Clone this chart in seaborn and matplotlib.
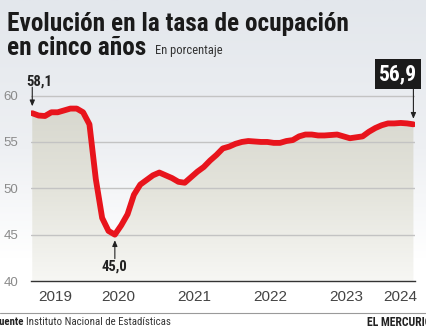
import numpy as np
import pandas as pd
import matplotlib
matplotlib.use("Agg")
import matplotlib.pyplot as plt
import seaborn as sns
from matplotlib.colors import LinearSegmentedColormap
from matplotlib.patches import Polygon

# ---------------- data ----------------
start_month = "2019-05-01"
end_month = "2024-05-01"
tasa = [58.1, 57.85, 57.8, 58.2, 58.2, 58.4, 58.6, 58.6, 58.2, 56.9,
        51.0, 46.8, 45.4, 45.0, 46.0, 47.2, 49.3, 50.4, 50.9, 51.4,
        51.7, 51.4, 51.1, 50.7, 50.6, 51.2, 51.8, 52.3, 53.0, 53.6,
        54.3, 54.5, 54.8, 55.0, 55.1, 55.05, 55.0, 55.0, 54.9, 54.9,
        55.1, 55.2, 55.6, 55.8, 55.8, 55.7, 55.7, 55.75, 55.8, 55.6,
        55.4, 55.5, 55.6, 56.1, 56.5, 56.8, 57.0, 57.0, 57.05, 57.0,
        56.9]
years = [2019, 2020, 2021, 2022, 2023, 2024]
year_labels = ["2019", "2020", "2021", "2022", "2023", "2024"]
y_ticks = [40, 45, 50, 55, 60]
label_first = "58,1"
label_min = "45,0"
label_last = "56,9"

months = pd.date_range(start_month, end_month, freq="MS")
xpos = months.year + (months.month - 0.5) / 12.0
df = pd.DataFrame({"x": xpos, "tasa": tasa})

# ---------------- style ----------------
sns.set_theme(style="white")
FAM = ['Roboto Condensed', 'Liberation Sans', 'DejaVu Sans']
FAM2 = ['Liberation Sans', 'DejaVu Sans']
plt.rcParams['font.family'] = FAM

W, H = 426, 331
fig = plt.figure(figsize=(W / 100, H / 100), dpi=100)

# figure background gradient
bg = fig.add_axes([0, 0, 1, 1], zorder=-10)
grad = np.linspace(0, 1, 256).reshape(-1, 1)
cmap_bg = LinearSegmentedColormap.from_list(
    "bg", [(0, "#ffffff"), (0.22, "#ffffff"), (0.55, "#eef0f3"), (1, "#e3e7ec")])
bg.imshow(grad, aspect="auto", cmap=cmap_bg, extent=[0, 1, 0, 1], origin="lower")
bg.set_axis_off()

# main axes
x0_px, x1_px = 31, 415
y_bot_px, y_top_px = 281, 60
ax = fig.add_axes([x0_px / W, (H - y_bot_px) / H, (x1_px - x0_px) / W, (y_bot_px - y_top_px) / H])
ax.patch.set_alpha(0)
px_per_unit = 9.27
ax.set_ylim(40, 40 + (y_bot_px - y_top_px) / px_per_unit)
ax.set_xlim(2019 + 4.3 / 12, 2024 + 4.75 / 12)

# gradient fill under curve
cmap_fill = LinearSegmentedColormap.from_list("fill", ["#f7f7f4", "#e4e4dc", "#d7d7ce"])
xmin, xmax = df["x"].min(), df["x"].max()
im = ax.imshow(grad, aspect="auto", cmap=cmap_fill, extent=[xmin, xmax, 40, 59],
               origin="lower", zorder=1)
verts = [(xmin, 40)] + list(zip(df["x"], df["tasa"])) + [(xmax, 40)]
poly = Polygon(verts, closed=True, facecolor="none", edgecolor="none")
ax.add_patch(poly)
im.set_clip_path(poly)

# grid lines
for yv in y_ticks[1:]:
    ax.axhline(yv, color="#c3c3c3", lw=1.0, zorder=2)

# line
sns.lineplot(data=df, x="x", y="tasa", ax=ax, color="#e8141c", lw=4.2,
             zorder=5, solid_capstyle="round", solid_joinstyle="round")
ax.set_xlabel("")
ax.set_ylabel("")

# axes styling
for s in ["top", "right", "left"]:
    ax.spines[s].set_visible(False)
ax.spines["bottom"].set_color("#333333")
ax.spines["bottom"].set_linewidth(1.0)
ax.set_yticks(y_ticks)
ax.set_yticklabels([str(v) for v in y_ticks], fontfamily=FAM2)
ax.tick_params(axis="y", length=0, pad=9, labelsize=9.5, labelcolor="#8a8a8a")
ax.set_xticks(years[1:])
ax.set_xticklabels([])
ax.set_xticks(np.arange(2019 + 5 / 12, 2024 + 4.8 / 12, 1 / 12), minor=True)
ax.tick_params(axis="x", which="major", length=14, width=1.0, color="#333333", direction="out")
ax.tick_params(axis="x", which="minor", length=5, width=0.8, color="#333333", direction="out")
ax.grid(False)

# year labels centred in each visible year segment
xl, xr = ax.get_xlim()
for yr, lab in zip(years, year_labels):
    a, b = max(yr, xl), min(yr + 1, xr)
    ax.text((a + b) / 2, 40 - 16 / px_per_unit, lab, ha="center", va="center",
            fontsize=11, color="#444444", fontfamily=FAM2)

# annotations
arrow_kw = dict(arrowstyle="-|>,head_length=0.35,head_width=0.15", color="#222222", lw=0.8,
                shrinkA=0, mutation_scale=10)
fx, fy = df["x"].iloc[0], df["tasa"].iloc[0]
ax.annotate("", xy=(fx, fy), xytext=(0, 26), textcoords="offset pixels",
            arrowprops=dict(**arrow_kw, shrinkB=5), annotation_clip=False)
ax.annotate(label_first, xy=(fx, fy), xytext=(7, 32), textcoords="offset pixels",
            ha="center", va="center", fontsize=10.5, fontweight="bold", color="#222222",
            annotation_clip=False)

imin = int(np.argmin(df["tasa"].values))
mx, my = df["x"].iloc[imin], df["tasa"].iloc[imin]
ax.annotate("", xy=(mx, my), xytext=(0, -24), textcoords="offset pixels",
            arrowprops=dict(**arrow_kw, shrinkB=4), annotation_clip=False)
ax.annotate(label_min, xy=(mx, my), xytext=(0, -32), textcoords="offset pixels",
            ha="center", va="center", fontsize=10.5, fontweight="bold", color="#222222",
            annotation_clip=False)

lx, ly = df["x"].iloc[-1], df["tasa"].iloc[-1]
ax.annotate("", xy=(lx, ly), xytext=(0, 38), textcoords="offset pixels",
            arrowprops=dict(**arrow_kw, shrinkB=4), annotation_clip=False)
ax.annotate(label_last, xy=(lx, ly), xytext=(-15, 50), textcoords="offset pixels",
            ha="center", va="center", fontsize=15.5, fontweight="bold", color="white",
            annotation_clip=False,
            bbox=dict(boxstyle="square,pad=0.18", fc="#1b1b1b", ec="none"))

# titles
fig.text(7 / W, 1 - 31 / H, "Evolución en la tasa de ocupación", fontsize=18.2,
         fontweight="heavy", color="#1a1a1a", va="baseline", ha="left")
fig.text(7 / W, 1 - 55 / H, "en cinco años", fontsize=18.2,
         fontweight="heavy", color="#1a1a1a", va="baseline", ha="left")
fig.text(155 / W, 1 - 54 / H, "En porcentaje", fontsize=9,
         color="#333333", va="baseline", ha="left")

# footer
fig.add_artist(plt.Line2D([0, 1], [1 - 313 / H, 1 - 313 / H], color="#9a9a9a", lw=0.8,
                          transform=fig.transFigure))
fig.text(24 / W, 1 - 322 / H, "Fuente", fontsize=7.8, fontweight="bold", color="#222222",
         ha="right", va="center")
fig.text(26 / W, 1 - 322 / H, "Instituto Nacional de Estadísticas", fontsize=7.8,
         color="#333333", ha="left", va="center")
fig.text(367 / W, 1 - 322 / H, "EL MERCURIO", fontsize=8.5, fontweight="bold",
         color="#222222", ha="left", va="center")

fig.savefig("out.png", dpi=100)
